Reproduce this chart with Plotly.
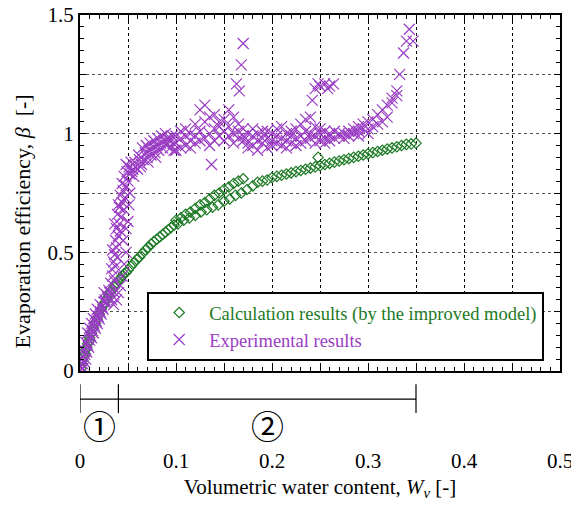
import plotly.graph_objects as go

# ---------------- data ----------------
calc_x = [0.001, 0.002, 0.003, 0.004, 0.005, 0.006, 0.007, 0.008, 0.009, 0.010,
          0.012, 0.014, 0.016, 0.018, 0.020, 0.022, 0.024, 0.026, 0.028, 0.030,
          0.032, 0.034, 0.036, 0.038, 0.040, 0.042, 0.044, 0.046, 0.048, 0.050,
          0.053, 0.056, 0.059, 0.062, 0.065, 0.068, 0.071, 0.074, 0.077, 0.080,
          0.083, 0.086, 0.089, 0.092, 0.095, 0.098,
          0.100, 0.105, 0.110, 0.115, 0.120, 0.125, 0.130, 0.135, 0.140, 0.145,
          0.150, 0.155, 0.160, 0.165, 0.170,
          0.102, 0.108, 0.114, 0.120, 0.126, 0.132, 0.138, 0.144, 0.150, 0.156,
          0.162, 0.168, 0.174, 0.180,
          0.185, 0.190, 0.195, 0.200, 0.205, 0.210, 0.215, 0.220,
          0.225, 0.230, 0.235, 0.240, 0.245, 0.250, 0.255, 0.260, 0.265, 0.270,
          0.275, 0.280, 0.285, 0.290, 0.295, 0.300, 0.305, 0.310, 0.315, 0.320,
          0.325, 0.330, 0.335, 0.340, 0.345, 0.350, 0.248]
calc_beta = [0.01, 0.03, 0.045, 0.06, 0.075, 0.09, 0.10, 0.115, 0.125, 0.14,
             0.16, 0.18, 0.20, 0.22, 0.24, 0.26, 0.275, 0.29, 0.305, 0.32,
             0.335, 0.345, 0.355, 0.37, 0.38, 0.39, 0.40, 0.41, 0.415, 0.425,
             0.44, 0.455, 0.47, 0.48, 0.495, 0.51, 0.52, 0.535, 0.545, 0.555,
             0.565, 0.575, 0.585, 0.595, 0.605, 0.615,
             0.635, 0.645, 0.66, 0.67, 0.685, 0.70, 0.71, 0.725, 0.74, 0.75,
             0.765, 0.775, 0.79, 0.80, 0.81,
             0.62, 0.635, 0.645, 0.655, 0.67, 0.68, 0.69, 0.70, 0.715, 0.725,
             0.74, 0.75, 0.765, 0.78,
             0.795, 0.80, 0.805, 0.815, 0.82, 0.825, 0.83, 0.835,
             0.84, 0.845, 0.85, 0.855, 0.86, 0.865, 0.87, 0.875, 0.88, 0.885,
             0.89, 0.895, 0.90, 0.905, 0.91, 0.915, 0.92, 0.925, 0.93, 0.935,
             0.94, 0.945, 0.95, 0.955, 0.957, 0.96, 0.90]

exp_x = [
    # initial band
    0.000, 0.001, 0.002, 0.003, 0.001, 0.002, 0.004, 0.005, 0.006, 0.004,
    0.007, 0.008, 0.006, 0.009, 0.010, 0.011, 0.008, 0.012, 0.013, 0.010,
    0.014, 0.015, 0.012, 0.016, 0.017, 0.014, 0.018, 0.019, 0.016, 0.020,
    0.021, 0.022, 0.018, 0.023, 0.024, 0.025, 0.021, 0.026, 0.027, 0.028,
    0.025, 0.029, 0.030, 0.031, 0.003,
    0.035, 0.038, 0.040, 0.042, 0.044, 0.046, 0.048, 0.033, 0.036,
    # steep rise
    0.032, 0.034, 0.036, 0.033, 0.035, 0.037, 0.036, 0.038, 0.034, 0.039,
    0.037, 0.040, 0.038, 0.041, 0.036, 0.042, 0.039, 0.043, 0.041, 0.044,
    0.046, 0.042, 0.045, 0.047, 0.044, 0.048, 0.046, 0.050, 0.049, 0.052,
    0.048, 0.051, 0.053, 0.055, 0.040, 0.045, 0.048, 0.050, 0.051, 0.052,
    # knee
    0.054, 0.056, 0.058, 0.057, 0.060, 0.062, 0.061, 0.064, 0.066, 0.065,
    0.068, 0.070, 0.069, 0.072, 0.074, 0.073, 0.076, 0.078, 0.077, 0.080,
    0.082, 0.081, 0.084, 0.086, 0.085, 0.088, 0.090, 0.089, 0.092, 0.094,
    0.093, 0.096, 0.098, 0.097, 0.063, 0.071, 0.079,
    # plateau
    0.100, 0.100, 0.100, 0.105, 0.105, 0.105, 0.110, 0.110, 0.110,
    0.115, 0.115, 0.115, 0.120, 0.120, 0.120, 0.125, 0.125, 0.125,
    0.130, 0.130, 0.130, 0.135, 0.135, 0.135, 0.137,
    0.140, 0.140, 0.140, 0.145, 0.145, 0.145, 0.150, 0.150, 0.150,
    0.155, 0.155, 0.155, 0.160, 0.160, 0.160, 0.165, 0.165, 0.165,
    0.170, 0.170, 0.170, 0.175, 0.175, 0.175, 0.180, 0.180, 0.180,
    0.185, 0.185, 0.185, 0.190, 0.190, 0.190, 0.195, 0.195, 0.195,
    0.200, 0.200, 0.200, 0.205, 0.205, 0.205, 0.210, 0.210, 0.210,
    0.215, 0.215, 0.215, 0.220, 0.220, 0.220, 0.225, 0.225, 0.225,
    0.230, 0.230, 0.230, 0.235, 0.235, 0.235, 0.240, 0.240, 0.240,
    0.245, 0.245, 0.245, 0.250, 0.250, 0.250, 0.255, 0.255, 0.255,
    0.260, 0.260, 0.260, 0.265, 0.265, 0.270, 0.270, 0.275, 0.275,
    0.280, 0.280, 0.285, 0.285, 0.290, 0.290, 0.290, 0.295, 0.295,
    # final rise
    0.300, 0.300, 0.300, 0.305, 0.305, 0.310, 0.310, 0.315, 0.315,
    0.320, 0.320, 0.325, 0.325, 0.330, 0.330, 0.333, 0.337, 0.340,
    0.343, 0.347,
    # outliers
    0.163, 0.166, 0.168, 0.170, 0.242, 0.245, 0.248, 0.250, 0.255,
    0.258, 0.260, 0.264]
exp_beta = [
    0.00, 0.02, 0.01, 0.01, 0.05, 0.05, 0.04, 0.07, 0.05, 0.09,
    0.08, 0.11, 0.12, 0.10, 0.13, 0.15, 0.16, 0.14, 0.17, 0.18,
    0.16, 0.19, 0.20, 0.18, 0.21, 0.22, 0.20, 0.23, 0.24, 0.22,
    0.25, 0.24, 0.26, 0.27, 0.26, 0.29, 0.28, 0.30, 0.29, 0.32,
    0.33, 0.31, 0.34, 0.33, 0.03,
    0.28, 0.30, 0.33, 0.36, 0.40, 0.45, 0.50, 0.30, 0.33,
    0.37, 0.40, 0.38, 0.43, 0.46, 0.44, 0.49, 0.52, 0.51, 0.48,
    0.55, 0.57, 0.60, 0.62, 0.62, 0.59, 0.66, 0.65, 0.69, 0.71,
    0.68, 0.74, 0.76, 0.73, 0.79, 0.78, 0.82, 0.80, 0.84, 0.83,
    0.87, 0.86, 0.88, 0.85, 0.70, 0.55, 0.60, 0.63, 0.70, 0.75,
    0.84, 0.82, 0.86, 0.88, 0.85, 0.89, 0.91, 0.87, 0.89, 0.94,
    0.92, 0.90, 0.95, 0.93, 0.91, 0.96, 0.94, 0.92, 0.97, 0.95,
    0.93, 0.98, 0.96, 0.94, 0.99, 0.97, 0.95, 1.00, 0.98, 0.94,
    0.97, 0.99, 0.93, 0.96, 0.86, 0.88, 0.90,
    0.96, 0.99, 0.93, 0.98, 0.94, 1.01, 0.95, 0.99, 1.02,
    0.97, 1.00, 0.94, 0.99, 1.04, 0.96, 1.10, 1.01, 0.97,
    1.12, 1.05, 0.98, 1.07, 1.00, 0.95, 0.87,
    1.08, 1.02, 0.97, 1.05, 0.99, 1.03, 1.06, 1.01, 0.97,
    1.10, 1.03, 0.99, 1.07, 1.00, 0.96, 1.04, 0.98, 1.01,
    1.02, 0.97, 0.99, 0.96, 1.00, 0.94, 0.99, 0.95, 1.02,
    0.97, 1.00, 0.93, 1.01, 0.96, 0.98, 0.98, 0.94, 1.01,
    0.97, 1.00, 0.95, 0.99, 0.96, 1.02, 1.03, 0.98, 0.95,
    0.97, 1.00, 0.94, 0.99, 0.96, 1.01, 0.98, 1.02, 0.95,
    1.04, 0.99, 0.96, 1.06, 1.01, 0.97, 1.07, 1.00, 0.98,
    1.03, 0.99, 0.96, 1.00, 0.97, 1.02, 0.98, 1.01, 0.96,
    0.99, 0.97, 1.00, 1.01, 0.98, 0.99, 1.00, 1.00, 0.98,
    1.01, 0.99, 1.02, 1.00, 1.03, 1.01, 0.99, 1.04, 1.02,
    1.05, 1.02, 1.00, 1.06, 1.03, 1.08, 1.04, 1.10, 1.05,
    1.12, 1.07, 1.13, 1.15, 1.16, 1.18, 1.25, 1.34, 1.39,
    1.44, 1.39,
    1.21, 1.18, 1.29, 1.38, 1.14, 1.19, 1.21, 1.20, 1.21,
    1.19, 1.20, 1.21]

x_tick_vals = [0, 0.05, 0.1, 0.15, 0.2, 0.25, 0.3, 0.35, 0.4, 0.45, 0.5]
x_tick_text = ["0", " ", "0.1", " ", "0.2", " ", "0.3", " ", "0.4", " ", "0.5"]
y_tick_vals = [0, 0.25, 0.5, 0.75, 1.0, 1.25, 1.5]
y_tick_text = ["0", " ", "0.5", " ", "1", " ", "1.5"]

region_bounds = [0, 0.04, 0.35]
region_labels = ["①", "②"]

# ---------------- styles ----------------
GREEN = "#1c7a24"
PURPLE = "#9a3cc4"
FONT = "Liberation Serif, Times New Roman, serif"

fig = go.Figure()
fig.add_trace(go.Scatter(
    x=calc_x, y=calc_beta, mode="markers",
    name=f"<span style='color:{GREEN}'>Calculation results (by the improved model)</span>",
    marker=dict(symbol="diamond-open", size=8, color=GREEN, line=dict(width=1.2)),
))
fig.add_trace(go.Scatter(
    x=exp_x, y=exp_beta, mode="markers",
    name=f"<span style='color:{PURPLE}'>Experimental results</span>",
    marker=dict(symbol="x-thin-open", size=11, color=PURPLE, line=dict(width=1.2, color=PURPLE)),
))

# region bracket below the x axis
y_line = -0.079
y_top, y_bot = -0.037, -0.118
fig.add_shape(type="line", xref="x", yref="paper",
              x0=region_bounds[0], x1=region_bounds[-1], y0=y_line, y1=y_line,
              line=dict(color="black", width=1.2))
for b in region_bounds:
    fig.add_shape(type="line", xref="x", yref="paper",
                  x0=b, x1=b, y0=y_top, y1=y_bot,
                  line=dict(color="black", width=1.2))
for i, lab in enumerate(region_labels):
    mid = (region_bounds[i] + region_bounds[i + 1]) / 2
    fig.add_annotation(x=mid, y=-0.152, xref="x", yref="paper", text=lab,
                       showarrow=False, yanchor="middle",
                       font=dict(family="Noto Sans CJK JP", size=33, color="black"))

# y axis title (annotation, to match its offset position)
fig.add_annotation(x=0, xref="paper", xshift=-58, y=0.42, yref="paper",
                   text="Evaporation efficiency, <i>β</i>  [-]", textangle=-90,
                   showarrow=False, xanchor="center", yanchor="middle",
                   font=dict(family=FONT, size=22, color="black"))

axis_common = dict(
    showline=True, linecolor="black", linewidth=2, mirror="ticks",
    ticks="inside", tickcolor="black", ticklen=6, tickwidth=1,
    zeroline=False, showgrid=True, gridwidth=1, griddash="dot",
    tickfont=dict(family=FONT, size=21, color="black"),
    tickmode="array", automargin=False, ticklabeloverflow="allow",
)
fig.update_xaxes(
    **axis_common, range=[0, 0.5], tickvals=x_tick_vals, ticktext=x_tick_text,
    gridcolor="black", ticklabelstandoff=70,
    minor=dict(ticks="inside", ticklen=4, tickcolor="black", dtick=0.01, tick0=0, showgrid=False),
    title=dict(text="Volumetric water content, <i>W<sub>v</sub></i> [-]",
               font=dict(family=FONT, size=21, color="black"), standoff=7),
)
fig.update_yaxes(
    **axis_common, range=[0, 1.5], tickvals=y_tick_vals, ticktext=y_tick_text,
    gridcolor="#555555",
    minor=dict(ticks="inside", ticklen=4, tickcolor="black", dtick=0.05, tick0=0, showgrid=False),
)

fig.update_layout(
    width=571, height=503,
    margin=dict(l=72, r=19, t=7, b=140),
    paper_bgcolor="white", plot_bgcolor="white",
    showlegend=True,
    legend=dict(x=0.14, y=0.222, xanchor="left", yanchor="top",
                bordercolor="black", borderwidth=2, bgcolor="white",
                font=dict(family=FONT, size=18.5, color="black"),
                itemwidth=50, tracegroupgap=0),
)

fig.write_html("out.html")
